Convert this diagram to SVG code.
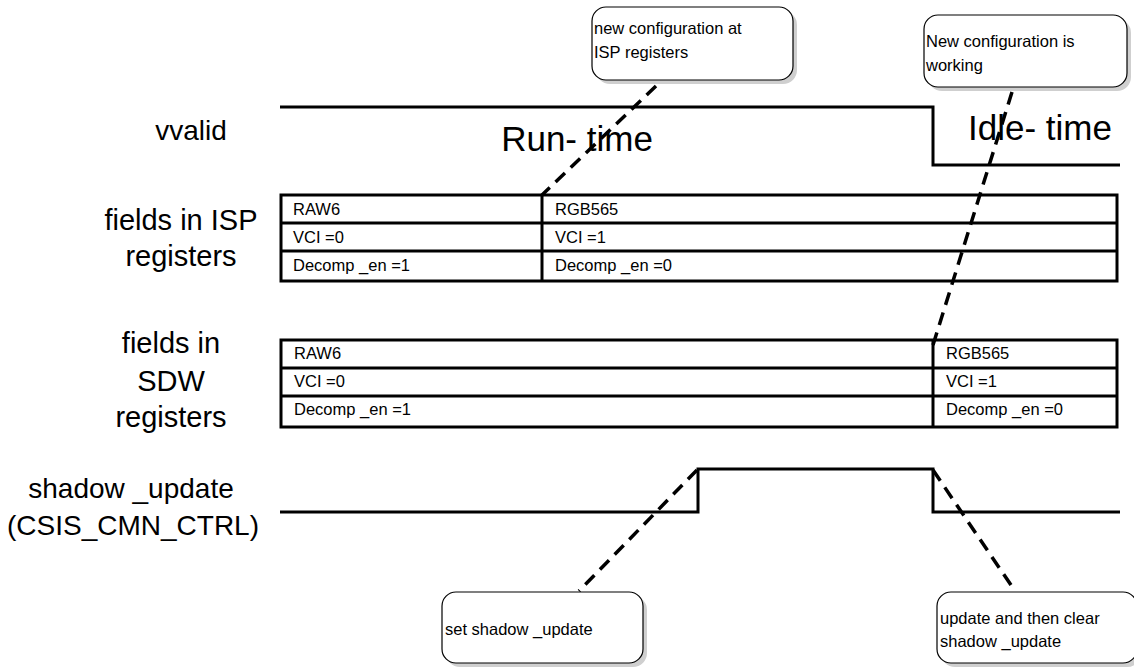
<svg xmlns="http://www.w3.org/2000/svg" width="1134" height="668" viewBox="0 0 1134 668">
<style>
text{font-family:"Liberation Sans",Arial,sans-serif;fill:#000}
.lbl{font-size:28px;text-anchor:middle}
.big{font-size:35px}
.cell{font-size:16.5px}
.note{font-size:16.5px}
.sig{fill:none;stroke:#000;stroke-width:3}
.tbl{fill:none;stroke:#000;stroke-width:3}
.dash{fill:none;stroke:#000;stroke-width:3.5;stroke-dasharray:13 8}
.box{fill:#fff;stroke:#000;stroke-width:1.2}
.shadow{fill:#cfcfcf}
</style>
<rect width="1134" height="668" fill="#fff"/>

<g id="labels">
<text class="lbl" x="191" y="140">vvalid</text>
<text class="lbl" x="181" y="230" style="font-size:29px">fields in ISP</text>
<text class="lbl" x="181" y="266" style="font-size:29px">registers</text>
<text class="lbl" x="171" y="353" style="font-size:29px">fields in</text>
<text class="lbl" x="171" y="391" style="font-size:29px">SDW</text>
<text class="lbl" x="171" y="427" style="font-size:29px">registers</text>
<text class="lbl" x="131" y="498">shadow _update</text>
<text class="lbl" x="133" y="535">(CSIS_CMN_CTRL)</text>
<text class="big" x="577" y="151" text-anchor="middle">Run- time</text>
<text class="big" x="1040" y="140" text-anchor="middle">Idle- time</text>
</g>

<g id="vvalid">
<polyline class="sig" points="280,107 933,107 933,165 1120,165"/>
</g>

<g id="isp-table">
<rect class="tbl" x="281" y="195" width="836" height="86"/>
<line class="tbl" x1="281" y1="223" x2="1117" y2="223"/>
<line class="tbl" x1="281" y1="251" x2="1117" y2="251"/>
<line class="tbl" x1="542" y1="195" x2="542" y2="281"/>
<text class="cell" x="293" y="215">RAW6</text>
<text class="cell" x="293" y="243">VCI =0</text>
<text class="cell" x="293" y="271">Decomp _en =1</text>
<text class="cell" x="555" y="215">RGB565</text>
<text class="cell" x="555" y="243">VCI =1</text>
<text class="cell" x="555" y="271">Decomp _en =0</text>
</g>

<g id="sdw-table">
<rect class="tbl" x="281" y="340" width="836" height="87"/>
<line class="tbl" x1="281" y1="368" x2="1117" y2="368"/>
<line class="tbl" x1="281" y1="396" x2="1117" y2="396"/>
<line class="tbl" x1="933" y1="340" x2="933" y2="427"/>
<text class="cell" x="294" y="359">RAW6</text>
<text class="cell" x="294" y="387">VCI =0</text>
<text class="cell" x="294" y="415">Decomp _en =1</text>
<text class="cell" x="946" y="359">RGB565</text>
<text class="cell" x="946" y="387">VCI =1</text>
<text class="cell" x="946" y="415">Decomp _en =0</text>
</g>

<g id="shadow-update">
<polyline class="sig" points="280,512 698,512 698,469 933,469 933,512 1120,512"/>
</g>

<g id="connectors">
<line class="dash" x1="656" y1="86" x2="541" y2="196"/>
<line class="dash" x1="1012" y1="92" x2="933" y2="345"/>
<line class="dash" x1="697" y1="470" x2="579" y2="591"/>
<line class="dash" x1="933" y1="470" x2="1015" y2="591"/>
</g>

<g id="note1">
<rect class="shadow" x="596" y="11" width="201" height="73" rx="14"/>
<rect class="box" x="592" y="7" width="201" height="73" rx="14"/>
<text class="note" x="594" y="34">new configuration at</text>
<text class="note" x="594" y="58">ISP registers</text>
</g>

<g id="note2">
<rect class="shadow" x="928" y="19" width="203" height="72" rx="14"/>
<rect class="box" x="924" y="15" width="203" height="72" rx="14"/>
<text class="note" x="926" y="47">New configuration is</text>
<text class="note" x="926" y="71">working</text>
</g>

<g id="note3">
<rect class="shadow" x="446" y="596" width="201" height="71" rx="14"/>
<rect class="box" x="442" y="592" width="201" height="71" rx="14"/>
<text class="note" x="445" y="635">set shadow _update</text>
</g>

<g id="note4">
<rect class="shadow" x="941" y="596" width="200" height="71" rx="14"/>
<rect class="box" x="937" y="592" width="200" height="71" rx="14"/>
<text class="note" x="940" y="624">update and then clear</text>
<text class="note" x="940" y="647">shadow _update</text>
</g>
</svg>
